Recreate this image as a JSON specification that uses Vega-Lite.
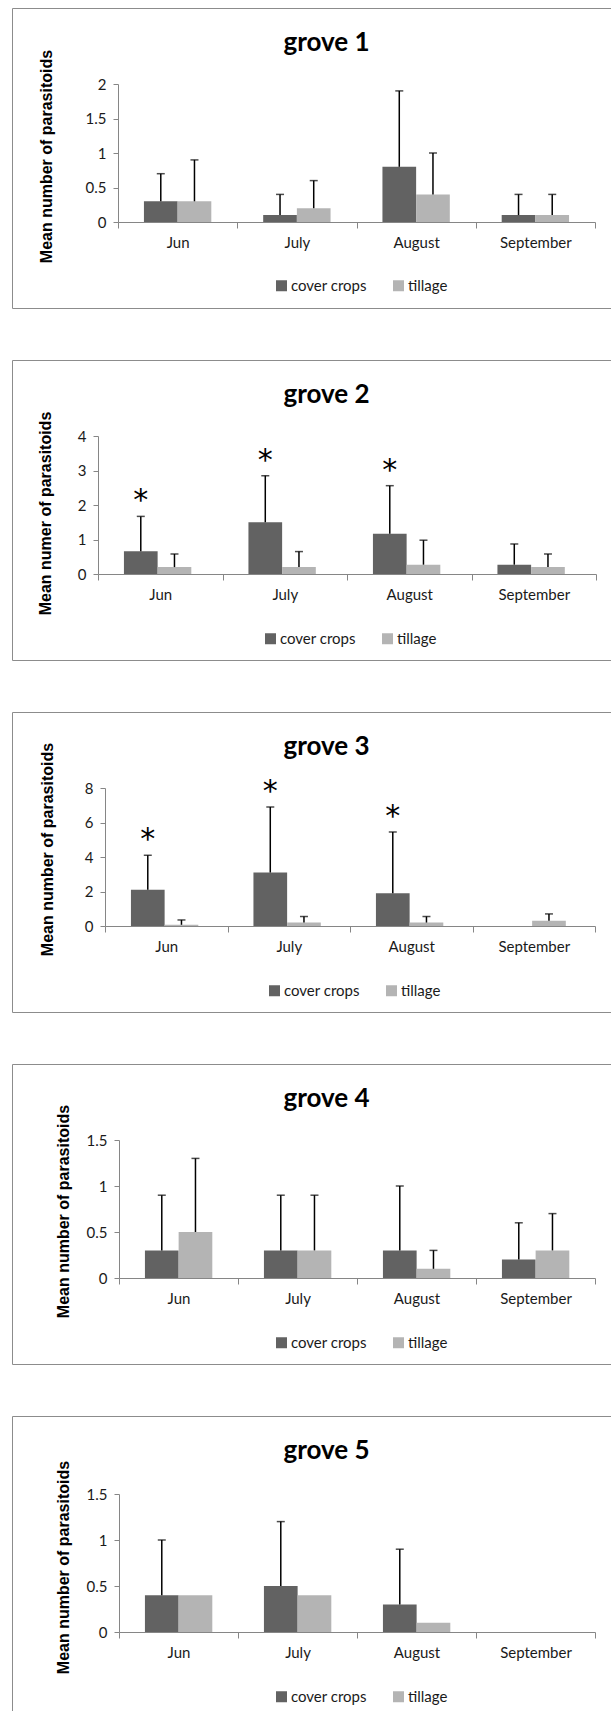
{
  "$schema": "https://vega.github.io/schema/vega-lite/v6.json",
  "padding": {"left": 11, "top": 7, "right": 0, "bottom": 0},
  "spacing": 50,
  "resolve": {"scale": {"color": "independent"}, "legend": {"color": "independent"}},
  "data": {"values": [
    {"grove": 1, "month": "Jun", "treatment": "cover crops", "mean": 0.3, "upper": 0.7, "sig": ""},
    {"grove": 1, "month": "Jun", "treatment": "tillage", "mean": 0.3, "upper": 0.9, "sig": ""},
    {"grove": 1, "month": "July", "treatment": "cover crops", "mean": 0.1, "upper": 0.4, "sig": ""},
    {"grove": 1, "month": "July", "treatment": "tillage", "mean": 0.2, "upper": 0.6, "sig": ""},
    {"grove": 1, "month": "August", "treatment": "cover crops", "mean": 0.8, "upper": 1.9, "sig": ""},
    {"grove": 1, "month": "August", "treatment": "tillage", "mean": 0.4, "upper": 1.0, "sig": ""},
    {"grove": 1, "month": "September", "treatment": "cover crops", "mean": 0.1, "upper": 0.4, "sig": ""},
    {"grove": 1, "month": "September", "treatment": "tillage", "mean": 0.1, "upper": 0.4, "sig": ""},
    {"grove": 2, "month": "Jun", "treatment": "cover crops", "mean": 0.66, "upper": 1.67, "sig": "*"},
    {"grove": 2, "month": "Jun", "treatment": "tillage", "mean": 0.2, "upper": 0.58, "sig": ""},
    {"grove": 2, "month": "July", "treatment": "cover crops", "mean": 1.5, "upper": 2.85, "sig": "*"},
    {"grove": 2, "month": "July", "treatment": "tillage", "mean": 0.2, "upper": 0.65, "sig": ""},
    {"grove": 2, "month": "August", "treatment": "cover crops", "mean": 1.17, "upper": 2.56, "sig": "*"},
    {"grove": 2, "month": "August", "treatment": "tillage", "mean": 0.27, "upper": 0.98, "sig": ""},
    {"grove": 2, "month": "September", "treatment": "cover crops", "mean": 0.27, "upper": 0.87, "sig": ""},
    {"grove": 2, "month": "September", "treatment": "tillage", "mean": 0.2, "upper": 0.58, "sig": ""},
    {"grove": 3, "month": "Jun", "treatment": "cover crops", "mean": 2.1, "upper": 4.1, "sig": "*"},
    {"grove": 3, "month": "Jun", "treatment": "tillage", "mean": 0.07, "upper": 0.35, "sig": ""},
    {"grove": 3, "month": "July", "treatment": "cover crops", "mean": 3.1, "upper": 6.9, "sig": "*"},
    {"grove": 3, "month": "July", "treatment": "tillage", "mean": 0.2, "upper": 0.55, "sig": ""},
    {"grove": 3, "month": "August", "treatment": "cover crops", "mean": 1.9, "upper": 5.45, "sig": "*"},
    {"grove": 3, "month": "August", "treatment": "tillage", "mean": 0.2, "upper": 0.55, "sig": ""},
    {"grove": 3, "month": "September", "treatment": "cover crops", "mean": 0, "upper": null, "sig": ""},
    {"grove": 3, "month": "September", "treatment": "tillage", "mean": 0.3, "upper": 0.7, "sig": ""},
    {"grove": 4, "month": "Jun", "treatment": "cover crops", "mean": 0.3, "upper": 0.9, "sig": ""},
    {"grove": 4, "month": "Jun", "treatment": "tillage", "mean": 0.5, "upper": 1.3, "sig": ""},
    {"grove": 4, "month": "July", "treatment": "cover crops", "mean": 0.3, "upper": 0.9, "sig": ""},
    {"grove": 4, "month": "July", "treatment": "tillage", "mean": 0.3, "upper": 0.9, "sig": ""},
    {"grove": 4, "month": "August", "treatment": "cover crops", "mean": 0.3, "upper": 1.0, "sig": ""},
    {"grove": 4, "month": "August", "treatment": "tillage", "mean": 0.1, "upper": 0.3, "sig": ""},
    {"grove": 4, "month": "September", "treatment": "cover crops", "mean": 0.2, "upper": 0.6, "sig": ""},
    {"grove": 4, "month": "September", "treatment": "tillage", "mean": 0.3, "upper": 0.7, "sig": ""},
    {"grove": 5, "month": "Jun", "treatment": "cover crops", "mean": 0.4, "upper": 1.0, "sig": ""},
    {"grove": 5, "month": "Jun", "treatment": "tillage", "mean": 0.4, "upper": null, "sig": ""},
    {"grove": 5, "month": "July", "treatment": "cover crops", "mean": 0.5, "upper": 1.2, "sig": ""},
    {"grove": 5, "month": "July", "treatment": "tillage", "mean": 0.4, "upper": null, "sig": ""},
    {"grove": 5, "month": "August", "treatment": "cover crops", "mean": 0.3, "upper": 0.9, "sig": ""},
    {"grove": 5, "month": "August", "treatment": "tillage", "mean": 0.1, "upper": null, "sig": ""},
    {"grove": 5, "month": "September", "treatment": "cover crops", "mean": 0, "upper": null, "sig": ""},
    {"grove": 5, "month": "September", "treatment": "tillage", "mean": 0, "upper": null, "sig": ""}
  ]},
  "vconcat": [
    {
      "width": 599, "height": 300,
      "title": {"text": "grove 1"},
      "transform": [{"filter": "datum.grove == 1"}],
      "encoding": {
        "x": {"field": "month", "type": "nominal", "sort": ["Jun", "July", "August", "September"],
              "scale": {"domain": ["Jun", "July", "August", "September"], "range": [106, 583], "paddingInner": 0, "paddingOuter": 0},
              "axis": {"title": null, "labelAngle": 0, "tickBand": "extent", "offset": -86}},
        "xOffset": {"field": "treatment", "type": "nominal", "scale": {"domain": ["cover crops", "tillage"], "paddingInner": 0, "paddingOuter": 0.77}}
      },
      "layer": [
        {"mark": "bar", "encoding": {
          "y": {"field": "mean", "type": "quantitative", "stack": null, "title": "Mean number of parasitoids",
                "scale": {"domain": [0, 2], "range": [214, 76], "nice": false},
                "axis": {"values": [0, 0.5, 1, 1.5, 2], "offset": -106, "titleX": -72, "titleY": 148}},
          "color": {"field": "treatment", "type": "nominal", "scale": {"domain": ["cover crops", "tillage"], "range": ["#626262", "#b4b4b4"]},
                    "legend": {"legendX": 262, "legendY": 270}}}},
        {"transform": [{"filter": "datum.upper != null"}], "mark": {"type": "rule", "color": "#000", "strokeWidth": 1.5},
         "encoding": {"y": {"field": "mean", "type": "quantitative", "title": "Mean number of parasitoids"}, "y2": {"field": "upper"}}},
        {"transform": [{"filter": "datum.upper != null"}], "mark": {"type": "tick", "color": "#000", "thickness": 1.5, "size": 8, "orient": "horizontal"},
         "encoding": {"y": {"field": "upper", "type": "quantitative", "title": "Mean number of parasitoids"}}},
        {"transform": [{"filter": "datum.sig != ''"}], "mark": {"type": "text", "font": "DejaVu Sans", "fontSize": 30, "baseline": "alphabetic", "dy": -6, "color": "#000"},
         "encoding": {"y": {"field": "upper", "type": "quantitative", "title": "Mean number of parasitoids"}, "text": {"field": "sig"}}}
      ]
    },
    {
      "width": 599, "height": 300,
      "title": {"text": "grove 2"},
      "transform": [{"filter": "datum.grove == 2"}],
      "encoding": {
        "x": {"field": "month", "type": "nominal", "sort": ["Jun", "July", "August", "September"],
              "scale": {"domain": ["Jun", "July", "August", "September"], "range": [86, 584], "paddingInner": 0, "paddingOuter": 0},
              "axis": {"title": null, "labelAngle": 0, "tickBand": "extent", "offset": -86}},
        "xOffset": {"field": "treatment", "type": "nominal", "scale": {"domain": ["cover crops", "tillage"], "paddingInner": 0, "paddingOuter": 0.77}}
      },
      "layer": [
        {"mark": "bar", "encoding": {
          "y": {"field": "mean", "type": "quantitative", "stack": null, "title": "Mean numer of parasitoids",
                "scale": {"domain": [0, 4], "range": [214, 76], "nice": false},
                "axis": {"values": [0, 1, 2, 3, 4], "offset": -86, "titleX": -53, "titleY": 153}},
          "color": {"field": "treatment", "type": "nominal", "scale": {"domain": ["cover crops", "tillage"], "range": ["#626262", "#b4b4b4"]},
                    "legend": {"legendX": 251, "legendY": 271}}}},
        {"transform": [{"filter": "datum.upper != null"}], "mark": {"type": "rule", "color": "#000", "strokeWidth": 1.5},
         "encoding": {"y": {"field": "mean", "type": "quantitative", "title": "Mean numer of parasitoids"}, "y2": {"field": "upper"}}},
        {"transform": [{"filter": "datum.upper != null"}], "mark": {"type": "tick", "color": "#000", "thickness": 1.5, "size": 8, "orient": "horizontal"},
         "encoding": {"y": {"field": "upper", "type": "quantitative", "title": "Mean numer of parasitoids"}}},
        {"transform": [{"filter": "datum.sig != ''"}], "mark": {"type": "text", "font": "DejaVu Sans", "fontSize": 30, "baseline": "alphabetic", "dy": -6, "color": "#000"},
         "encoding": {"y": {"field": "upper", "type": "quantitative", "title": "Mean numer of parasitoids"}, "text": {"field": "sig"}}}
      ]
    },
    {
      "width": 599, "height": 300,
      "title": {"text": "grove 3"},
      "transform": [{"filter": "datum.grove == 3"}],
      "encoding": {
        "x": {"field": "month", "type": "nominal", "sort": ["Jun", "July", "August", "September"],
              "scale": {"domain": ["Jun", "July", "August", "September"], "range": [93, 583], "paddingInner": 0, "paddingOuter": 0},
              "axis": {"title": null, "labelAngle": 0, "tickBand": "extent", "offset": -86}},
        "xOffset": {"field": "treatment", "type": "nominal", "scale": {"domain": ["cover crops", "tillage"], "paddingInner": 0, "paddingOuter": 0.77}}
      },
      "layer": [
        {"mark": "bar", "encoding": {
          "y": {"field": "mean", "type": "quantitative", "stack": null, "title": "Mean number of parasitoids",
                "scale": {"domain": [0, 8], "range": [214, 76], "nice": false},
                "axis": {"values": [0, 2, 4, 6, 8], "offset": -93, "titleX": -58, "titleY": 137}},
          "color": {"field": "treatment", "type": "nominal", "scale": {"domain": ["cover crops", "tillage"], "range": ["#626262", "#b4b4b4"]},
                    "legend": {"legendX": 255, "legendY": 271}}}},
        {"transform": [{"filter": "datum.upper != null"}], "mark": {"type": "rule", "color": "#000", "strokeWidth": 1.5},
         "encoding": {"y": {"field": "mean", "type": "quantitative", "title": "Mean number of parasitoids"}, "y2": {"field": "upper"}}},
        {"transform": [{"filter": "datum.upper != null"}], "mark": {"type": "tick", "color": "#000", "thickness": 1.5, "size": 8, "orient": "horizontal"},
         "encoding": {"y": {"field": "upper", "type": "quantitative", "title": "Mean number of parasitoids"}}},
        {"transform": [{"filter": "datum.sig != ''"}], "mark": {"type": "text", "font": "DejaVu Sans", "fontSize": 30, "baseline": "alphabetic", "dy": -6, "color": "#000"},
         "encoding": {"y": {"field": "upper", "type": "quantitative", "title": "Mean number of parasitoids"}, "text": {"field": "sig"}}}
      ]
    },
    {
      "width": 599, "height": 300,
      "title": {"text": "grove 4"},
      "transform": [{"filter": "datum.grove == 4"}],
      "encoding": {
        "x": {"field": "month", "type": "nominal", "sort": ["Jun", "July", "August", "September"],
              "scale": {"domain": ["Jun", "July", "August", "September"], "range": [107, 583], "paddingInner": 0, "paddingOuter": 0},
              "axis": {"title": null, "labelAngle": 0, "tickBand": "extent", "offset": -86}},
        "xOffset": {"field": "treatment", "type": "nominal", "scale": {"domain": ["cover crops", "tillage"], "paddingInner": 0, "paddingOuter": 0.77}}
      },
      "layer": [
        {"mark": "bar", "encoding": {
          "y": {"field": "mean", "type": "quantitative", "stack": null, "title": "Mean number of parasitoids",
                "scale": {"domain": [0, 1.5], "range": [214, 76], "nice": false},
                "axis": {"values": [0, 0.5, 1, 1.5], "offset": -107, "titleX": -56, "titleY": 147}},
          "color": {"field": "treatment", "type": "nominal", "scale": {"domain": ["cover crops", "tillage"], "range": ["#626262", "#b4b4b4"]},
                    "legend": {"legendX": 262, "legendY": 271}}}},
        {"transform": [{"filter": "datum.upper != null"}], "mark": {"type": "rule", "color": "#000", "strokeWidth": 1.5},
         "encoding": {"y": {"field": "mean", "type": "quantitative", "title": "Mean number of parasitoids"}, "y2": {"field": "upper"}}},
        {"transform": [{"filter": "datum.upper != null"}], "mark": {"type": "tick", "color": "#000", "thickness": 1.5, "size": 8, "orient": "horizontal"},
         "encoding": {"y": {"field": "upper", "type": "quantitative", "title": "Mean number of parasitoids"}}}
      ]
    },
    {
      "width": 599, "height": 300,
      "title": {"text": "grove 5"},
      "transform": [{"filter": "datum.grove == 5"}],
      "encoding": {
        "x": {"field": "month", "type": "nominal", "sort": ["Jun", "July", "August", "September"],
              "scale": {"domain": ["Jun", "July", "August", "September"], "range": [107, 583], "paddingInner": 0, "paddingOuter": 0},
              "axis": {"title": null, "labelAngle": 0, "tickBand": "extent", "offset": -84}},
        "xOffset": {"field": "treatment", "type": "nominal", "scale": {"domain": ["cover crops", "tillage"], "paddingInner": 0, "paddingOuter": 0.77}}
      },
      "layer": [
        {"mark": "bar", "encoding": {
          "y": {"field": "mean", "type": "quantitative", "stack": null, "title": "Mean number of parasitoids",
                "scale": {"domain": [0, 1.5], "range": [216, 78], "nice": false},
                "axis": {"values": [0, 0.5, 1, 1.5], "offset": -107, "titleX": -56, "titleY": 151}},
          "color": {"field": "treatment", "type": "nominal", "scale": {"domain": ["cover crops", "tillage"], "range": ["#626262", "#b4b4b4"]},
                    "legend": {"legendX": 262, "legendY": 273}}}},
        {"transform": [{"filter": "datum.upper != null"}], "mark": {"type": "rule", "color": "#000", "strokeWidth": 1.5},
         "encoding": {"y": {"field": "mean", "type": "quantitative", "title": "Mean number of parasitoids"}, "y2": {"field": "upper"}}},
        {"transform": [{"filter": "datum.upper != null"}], "mark": {"type": "tick", "color": "#000", "thickness": 1.5, "size": 8, "orient": "horizontal"},
         "encoding": {"y": {"field": "upper", "type": "quantitative", "title": "Mean number of parasitoids"}}}
      ]
    }
  ],
  "config": {
    "view": {"stroke": "#8c8c8c", "strokeWidth": 1},
    "title": {"font": "Lato", "fontSize": 26, "fontWeight": "bold", "color": "#000", "anchor": "middle", "frame": "group", "baseline": "middle", "offset": -48, "dx": 15},
    "axis": {"domainColor": "#868686", "tickColor": "#868686", "domainWidth": 1, "tickWidth": 1, "grid": false,
             "labelFont": "Lato", "labelFontSize": 15, "labelColor": "#1a1a1a",
             "titleFont": "Liberation Sans", "titleFontSize": 16, "titleFontWeight": "bold", "titleColor": "#000"},
    "axisX": {"tickSize": 6, "labelPadding": 7},
    "axisY": {"tickSize": 5, "labelPadding": 7, "format": "~g", "titleAlign": "center", "titleBaseline": "middle", "titleAngle": -90},
    "legend": {"orient": "none", "direction": "horizontal", "title": null, "symbolType": "square", "symbolSize": 121, "symbolStrokeWidth": 0, "symbolOpacity": 1,
               "labelFont": "Lato", "labelFontSize": 15, "labelColor": "#1a1a1a", "columnPadding": 24, "labelOffset": 2}
  }
}
